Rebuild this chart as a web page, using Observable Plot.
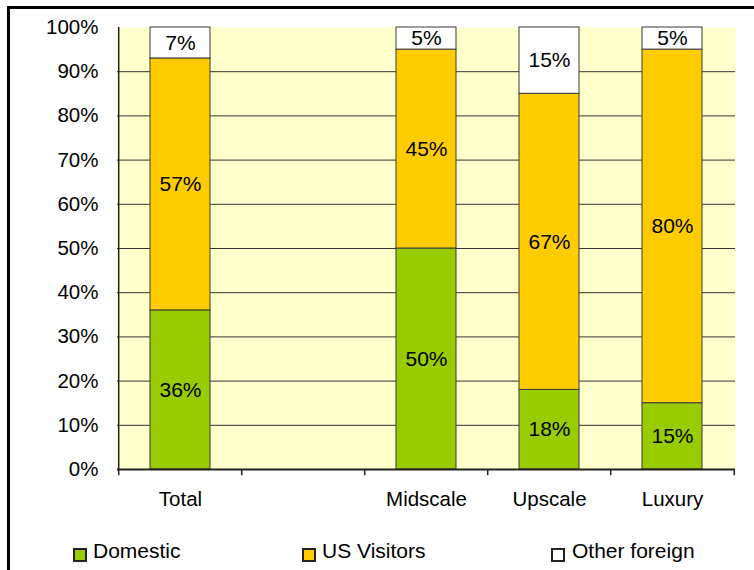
<!DOCTYPE html>
<html><head><meta charset="utf-8">
<script src="https://cdn.jsdelivr.net/npm/d3@7"></script>
<script src="https://cdn.jsdelivr.net/npm/@observablehq/plot@0.6"></script>
<style>
body{margin:0;background:#fff;font-family:"Liberation Sans",Arial,sans-serif;}
#wrap{position:relative;width:754px;height:570px;overflow:hidden;}
#border{position:absolute;left:7px;top:6px;width:800px;height:600px;border:3px solid #000;box-sizing:border-box;}
#chart{position:absolute;left:0;top:0;}
.sw{position:absolute;width:14px;height:14px;border:2px solid #222;box-sizing:border-box;}
.lt{position:absolute;font-size:21px;line-height:21px;color:#000;white-space:nowrap;}
</style></head>
<body>
<div id="wrap">
  <div id="border"></div>
  <div id="chart"></div>
  <div id="legend"></div>
</div>
<script>
const categories = ["Total", " ", "Midscale", "Upscale", "Luxury"];
const series = ["Domestic", "US Visitors", "Other foreign"];
const domestic = [36, null, 50, 18, 15];
const usVisitors = [57, null, 45, 67, 80];
const otherForeign = [7, null, 5, 15, 5];
const yTicks = [0, 10, 20, 30, 40, 50, 60, 70, 80, 90, 100];
const colors = ["#99CC00", "#FFCC00", "#FFFFFF"];

const seriesValues = [domestic, usVisitors, otherForeign];
const rows = [];
categories.forEach((cat, i) => {
  let base = 0;
  series.forEach((s, j) => {
    const v = seriesValues[j][i];
    if (v == null) return;
    rows.push({cat, series: s, value: v, y1: base, y2: base + v});
    base += v;
  });
});

const W = 754, H = 530, ML = 117, MR = 19, MT = 27, MB = 61;
const step = (W - ML - MR) / categories.length;

const chart = Plot.plot({
  width: W, height: H,
  marginLeft: ML, marginRight: MR, marginTop: MT, marginBottom: MB,
  style: {fontFamily: '"Liberation Sans",Arial,sans-serif', fontSize: "20.5px", color: "#000", background: "transparent", overflow: "visible"},
  x: {domain: categories, paddingInner: 0.515, paddingOuter: 0.2575, label: null, tickSize: 0, tickPadding: 22},
  y: {domain: [0, 100], label: null, ticks: yTicks, tickFormat: d => d + "%", tickSize: 0, tickPadding: 19},
  color: {domain: series, range: colors},
  marks: [
    Plot.frame({fill: "#FFFFCC", stroke: null}),
    Plot.ruleY(yTicks.filter(t => t > 0 && t < 100), {stroke: "#333", strokeWidth: 1}),
    Plot.rectY(rows, {x: "cat", y1: "y1", y2: "y2", fill: "series", stroke: "#3a3a3a", strokeWidth: 1}),
    Plot.text(rows, {x: "cat", y: d => (d.y1 + d.y2) / 2, text: d => d.value + "%", fontSize: 21, fill: "#000"}),
    Plot.ruleY([0], {stroke: "#222", strokeWidth: 2}),
    Plot.ruleX(categories.slice(0, 1), {dx: -step / 2, y1: 0, y2: 100, stroke: "#222", strokeWidth: 1.5}),
    Plot.ruleX(categories, {dx: -step / 2, y1: 0, y2: -1.4, stroke: "#222", strokeWidth: 1.5}),
    Plot.ruleX(categories.slice(-1), {dx: step / 2, y1: 0, y2: -1.4, stroke: "#222", strokeWidth: 1.5})
  ]
});
document.getElementById("chart").appendChild(chart);

const legendPos = [{sx: 73, tx: 93}, {sx: 302, tx: 322}, {sx: 551, tx: 572}];
const legend = document.getElementById("legend");
series.forEach((s, i) => {
  const sw = document.createElement("div");
  sw.className = "sw";
  sw.style.left = legendPos[i].sx + "px";
  sw.style.top = "548px";
  sw.style.background = colors[i];
  legend.appendChild(sw);
  const t = document.createElement("div");
  t.className = "lt";
  t.style.left = legendPos[i].tx + "px";
  t.style.top = "540px";
  t.textContent = s;
  legend.appendChild(t);
});
</script>
</body></html>
